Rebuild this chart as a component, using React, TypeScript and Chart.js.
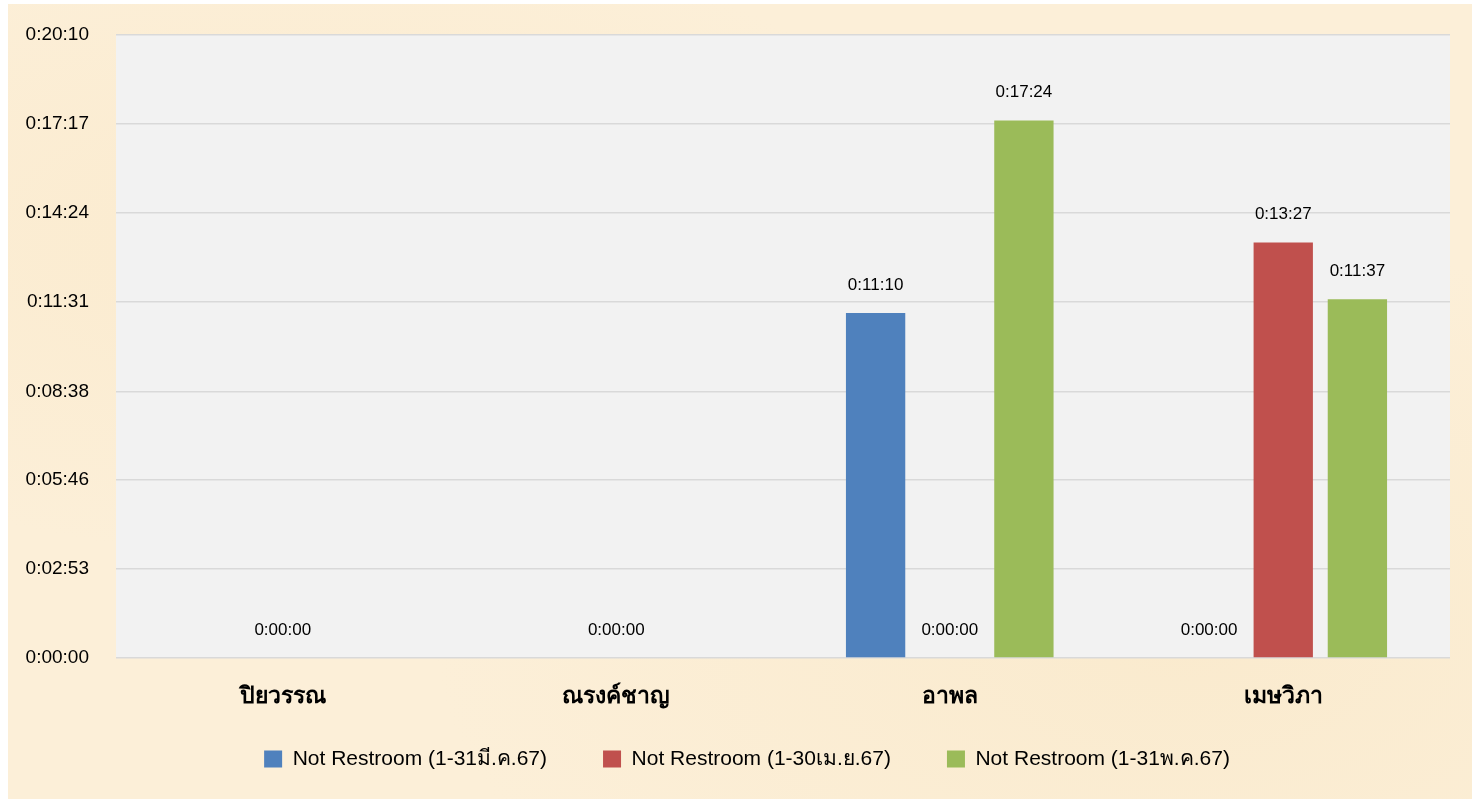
import React, { useEffect, useRef } from "react";
import { Chart, registerables } from "chart.js";

Chart.register(...registerables);

const CATEGORIES = ["ปิยวรรณ", "ณรงค์ชาญ", "อาพล", "เมษวิภา"];
// values in seconds (null = no bar / no label)
const SERIES_MAR = [null, null, 670, 0];
const SERIES_APR = [0, 0, 0, 807];
const SERIES_MAY = [null, null, 1044, 697];
const SERIES_NAMES = [
  "Not Restroom (1-31มี.ค.67)",
  "Not Restroom (1-30เม.ย.67)",
  "Not Restroom (1-31พ.ค.67)",
];
const SERIES_COLORS = ["#4f81bd", "#c0504d", "#9bbb59"];
const TICK_VALUES = [0, 173, 346, 518, 691, 864, 1037, 1210];
const Y_MAX = 1210;

const FONT = "'Liberation Sans', Arial, 'Noto Sans', 'DejaVu Sans', sans-serif";

function fmt(sec: number): string {
  const s = Math.floor(sec);
  const h = Math.floor(s / 3600);
  const m = Math.floor((s % 3600) / 60);
  const ss = s % 60;
  return `${h}:${String(m).padStart(2, "0")}:${String(ss).padStart(2, "0")}`;
}

const plotBg = {
  id: "plotBg",
  beforeDraw(chart: any) {
    const { ctx, chartArea } = chart;
    ctx.save();
    ctx.fillStyle = "#f2f2f2";
    ctx.fillRect(chartArea.left, chartArea.top, chartArea.right - chartArea.left, chartArea.bottom - chartArea.top);
    ctx.restore();
  },
};

const dataLabels = {
  id: "dataLabels",
  afterDatasetsDraw(chart: any) {
    const { ctx } = chart;
    ctx.save();
    ctx.font = `17px ${FONT}`;
    ctx.fillStyle = "#000";
    ctx.textAlign = "center";
    ctx.textBaseline = "middle";
    chart.data.datasets.forEach((ds: any, i: number) => {
      const meta = chart.getDatasetMeta(i);
      meta.data.forEach((el: any, j: number) => {
        const v = ds.data[j];
        if (v === null || v === undefined) return;
        ctx.fillText(fmt(v), el.x, el.y - 28);
      });
    });
    ctx.restore();
  },
};

const LEGEND_TOP = 688.5;
const LEGEND_DX = 18;
const legendShift = {
  id: "legendShift",
  afterLayout(chart: any) {
    const lg = chart.legend;
    if (!lg) return;
    const dy = LEGEND_TOP - lg.top;
    lg.top += dy;
    lg.bottom += dy;
    lg.left += LEGEND_DX;
    lg.right += LEGEND_DX;
  },
};

export default function App() {
  const ref = useRef<HTMLCanvasElement>(null);
  useEffect(() => {
    if (!ref.current) return;
    const chart = new Chart(ref.current, {
      type: "bar",
      data: {
        labels: CATEGORIES,
        datasets: [SERIES_MAR, SERIES_APR, SERIES_MAY].map((d, i) => ({
          label: SERIES_NAMES[i],
          data: d as any,
          backgroundColor: SERIES_COLORS[i],
          borderWidth: 0,
          categoryPercentage: 0.667,
          barPercentage: 0.8,
        })),
      },
      options: {
        animation: false,
        responsive: false,
        maintainAspectRatio: false,
        layout: { padding: { top: 31, right: 22, bottom: 0, left: 0 } },
        plugins: {
          tooltip: { enabled: false },
          legend: {
            position: "bottom",
            labels: {
              boxWidth: 18,
              boxHeight: 17,
              padding: 56,
              color: "#000",
              font: { family: FONT, size: 21 },
            },
          },
        },
        scales: {
          x: {
            grid: { display: false, drawTicks: false },
            border: { display: false },
            ticks: {
              padding: 25,
              color: "#000",
              font: { family: FONT, size: 23, weight: "bold" },
            },
            afterFit(scale: any) {
              scale.height = 54;
            },
          },
          y: {
            min: 0,
            max: Y_MAX,
            grid: {
              color: "#d9d9d9",
              lineWidth: 1.5,
              drawTicks: true,
              tickLength: 27,
              tickColor: "rgba(0,0,0,0)",
            },
            border: { display: false },
            ticks: {
              padding: 0,
              color: "#000",
              font: { family: FONT, size: 19 },
              callback: (v: any) => fmt(Number(v)),
            },
            afterBuildTicks(scale: any) {
              scale.ticks = TICK_VALUES.map((v) => ({ value: v }));
            },
            afterFit(scale: any) {
              scale.width = 108;
            },
          },
        },
      },
      plugins: [plotBg, dataLabels, legendShift],
    });
    return () => chart.destroy();
  }, []);

  return (
    <div
      style={{
        position: "absolute",
        left: 8,
        top: 4,
        width: 1464,
        height: 795,
        background:
          "radial-gradient(ellipse at 20% 30%, rgba(250,232,200,0.6), rgba(0,0,0,0) 40%), radial-gradient(ellipse at 80% 80%, rgba(248,230,196,0.5), rgba(0,0,0,0) 45%), #fcefd8",
      }}
    >
      <canvas ref={ref} width={1464} height={795} style={{ display: "block" }} />
    </div>
  );
}
